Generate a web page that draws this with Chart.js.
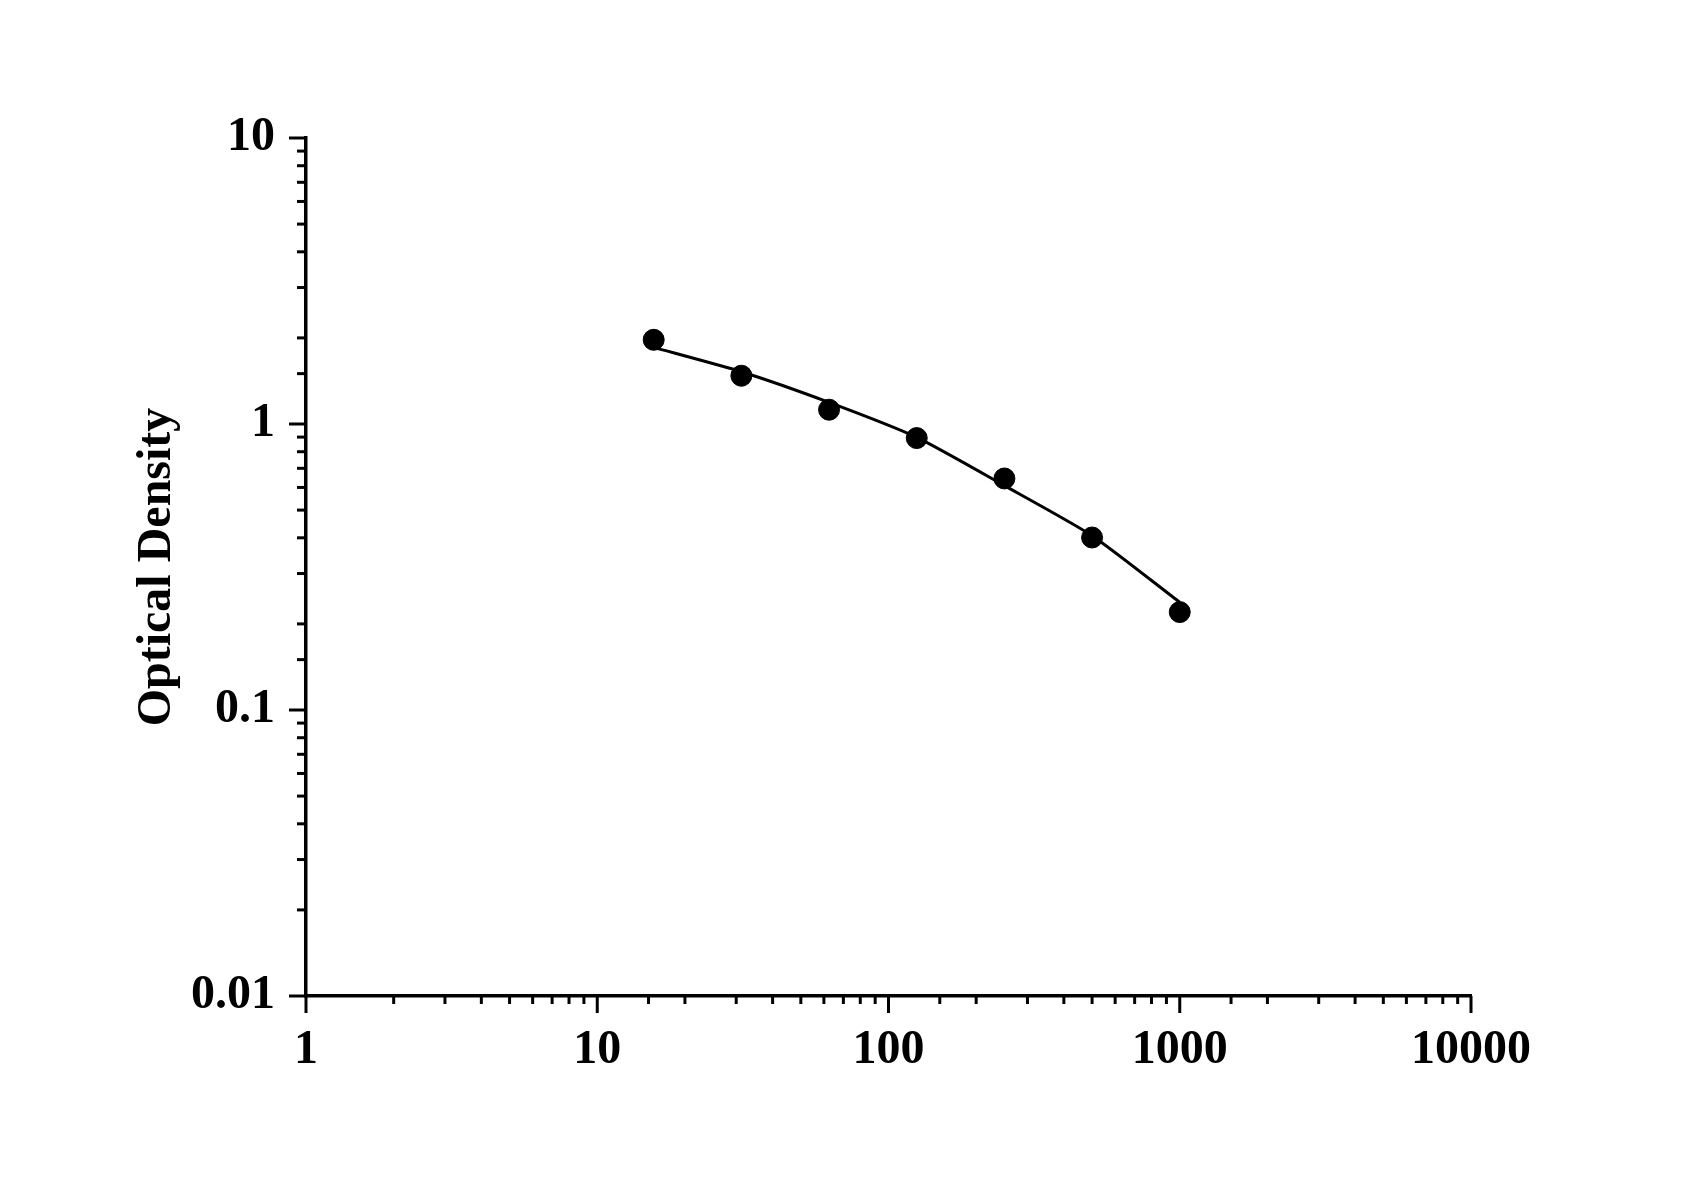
<!DOCTYPE html>
<html>
<head>
<meta charset="utf-8">
<title>Optical Density</title>
<script src="https://cdn.jsdelivr.net/npm/chart.js@4.4.1/dist/chart.umd.min.js"></script>
<style>
    html, body { margin: 0; padding: 0; background: #fff; }
    #wrap { width: 1708px; height: 1194px; position: relative; }
</style>
</head>
<body>
<div id="wrap"><canvas id="od-chart"></canvas></div>
<script>
// standard concentrations and measured OD
const concentrations = [15.625, 31.25, 62.5, 125, 250, 500, 1000]
const odValues = [1.97, 1.475, 1.122, 0.893, 0.645, 0.401, 0.220]

// fitted curve at the same concentrations
const fitX = [15.625, 31.25, 62.5, 125, 250, 500, 1000]
const fitY = [1.853, 1.523, 1.19, 0.898, 0.609, 0.407, 0.238]

const xTickLabels = ['1', '10', '100', '1000', '10000']
const yTickLabels = ['0.01', '0.1', '1', '10']

const font = { family: '"Liberation Serif", "Times New Roman", serif', weight: 'bold', size: 48 }

function isDecade(v) {
    const l = Math.log10(v)
    return Math.abs(l - Math.round(l)) < 1e-6
}

function decadeLabel(v, labels, minExp) {
    if (!isDecade(v)) return ''
    const i = Math.round(Math.log10(v)) - minExp
    return labels[i] !== undefined ? labels[i] : ''
}

// tick marks: long at decades, short in between, all pointing outwards
const tickMarks = {
    id: 'tickMarks',
    afterDraw(chart) {
        const ctx = chart.ctx
        const xs = chart.scales.x
        const ys = chart.scales.y
        ctx.save()
        ctx.strokeStyle = '#000'
        ctx.lineWidth = 3
        ctx.lineCap = 'butt'
        xs.ticks.forEach(t => {
            const px = xs.getPixelForValue(t.value)
            const len = isDecade(t.value) ? 17 : 8
            ctx.beginPath()
            ctx.moveTo(px, xs.top)
            ctx.lineTo(px, xs.top + len)
            ctx.stroke()
        })
        ys.ticks.forEach(t => {
            const py = ys.getPixelForValue(t.value)
            const len = isDecade(t.value) ? 17 : 9
            ctx.beginPath()
            ctx.moveTo(ys.right, py)
            ctx.lineTo(ys.right - len, py)
            ctx.stroke()
        })
        ctx.restore()
    }
}

const pointData = concentrations.map((c, i) => ({ x: c, y: odValues[i] }))
const fitData = fitX.map((c, i) => ({ x: c, y: fitY[i] }))

const chart = new Chart(document.getElementById('od-chart').getContext('2d'), {
    type: 'scatter',
    data: {
        datasets: [{
            label: 'fit',
            data: fitData,
            showLine: true,
            borderColor: '#000',
            borderWidth: 3,
            pointRadius: 0,
            tension: 0.2,
            order: 2
        }, {
            label: 'OD',
            data: pointData,
            showLine: false,
            backgroundColor: '#000',
            borderColor: '#000',
            pointRadius: 10.5,
            pointHoverRadius: 10.5,
            order: 1
        }]
    },
    options: {
        responsive: true,
        maintainAspectRatio: false,
        animation: false,
        events: [],
        layout: { padding: { left: 0, right: 237, top: 138, bottom: 0 } },
        plugins: {
            legend: { display: false },
            tooltip: { enabled: false }
        },
        scales: {
            x: {
                type: 'logarithmic',
                min: 1,
                max: 10000,
                grid: { display: false, drawTicks: false },
                border: { display: true, color: '#000', width: 3.5 },
                ticks: {
                    autoSkip: false,
                    maxRotation: 0,
                    padding: 26,
                    color: '#000',
                    font: font,
                    callback: (v) => decadeLabel(v, xTickLabels, 0)
                },
                afterFit: (s) => { s.height = 198 }
            },
            y: {
                type: 'logarithmic',
                min: 0.01,
                max: 10,
                grid: { display: false, drawTicks: false },
                border: { display: true, color: '#000', width: 3.5 },
                ticks: {
                    autoSkip: false,
                    padding: 31,
                    color: '#000',
                    font: font,
                    callback: (v) => decadeLabel(v, yTickLabels, -2)
                },
                title: {
                    display: true,
                    text: 'Optical Density',
                    color: '#000',
                    font: font,
                    padding: { top: 129, bottom: 0 }
                },
                afterFit: (s) => { s.width = 306 }
            }
        }
    },
    plugins: [tickMarks]
})
</script>
</body>
</html>
